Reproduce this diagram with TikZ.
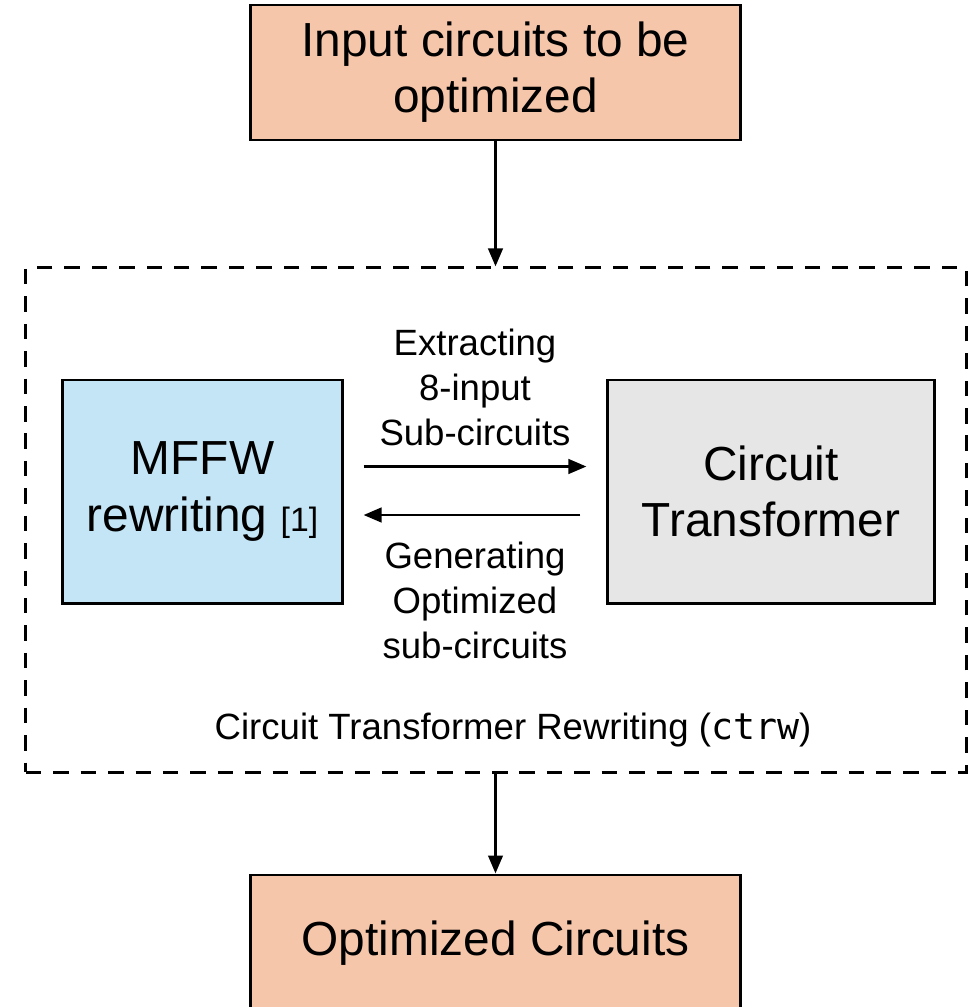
\documentclass[tikz,border=0pt]{standalone}
\usepackage{fontspec}
\setmainfont{Liberation Sans}
\newfontfamily\codefont{DejaVu Sans Mono}
\usetikzlibrary{arrows.meta, positioning}
\definecolor{ctpeach}{HTML}{F6C6AB}
\definecolor{ctblue}{HTML}{C3E5F5}
\definecolor{ctgray}{HTML}{E6E6E6}

\begin{document}
\begin{tikzpicture}[x=0.025cm, y=-0.025cm,
    every node/.style={align=center, inner sep=0pt},
    bigtext/.style={font=\fontsize{34}{40}\selectfont},
    smalltext/.style={font=\fontsize{26}{32}\selectfont},
    box/.style={draw, line width=2.1pt, bigtext},
    flow/.style={line width=2.1pt, -{Triangle[length=0.45cm, width=0.36cm]}}]
  \useasboundingbox (0,0) rectangle (971,1007);
  \clip (0,0) rectangle (971,1007);
  \node[box, fill=ctpeach, minimum width=12.225cm, minimum height=3.375cm] (input) at (495.5,72.5) {Input circuits to be\\optimized};
  \node[draw, dashed, line width=2.1pt, dash pattern=on 11pt off 8.5pt, minimum width=23.5cm, minimum height=12.6cm] (frame) at (496,520) {};
  \node[box, fill=ctblue, minimum width=6.975cm, minimum height=5.575cm] (mffw) at (202.5,491.5) {MFFW\\rewriting {\fontsize{24}{28}\selectfont [1]}};
  \node[box, fill=ctgray, minimum width=8.15cm, minimum height=5.575cm] (ct) at (771,491.5) {Circuit\\Transformer};
  \node[box, fill=ctpeach, minimum width=12.225cm, minimum height=3.4cm] (output) at (495.5,943) {Optimized Circuits};
  \node[smalltext] (extract) at (475,387) {Extracting\\8-input\\Sub-circuits};
  \node[smalltext] (generate) at (475,600) {Generating\\Optimized\\sub-circuits};
  \node[font=\fontsize{26}{30}\selectfont] (ctrw) at (513,730) {Circuit Transformer Rewriting ({\codefont ctrw})};
  \draw[flow] (input.south) -- (input.south |- frame.north);
  \draw[flow] ([shift={(20,-25)}]mffw.east) -- ([shift={(-20,-25)}]ct.west);
  \draw[flow] ([shift={(-26,23.5)}]ct.west) -- ([shift={(20,23.5)}]mffw.east);
  \draw[flow] (input.south |- frame.south) -- (input.south |- output.north);
\end{tikzpicture}
\end{document}
